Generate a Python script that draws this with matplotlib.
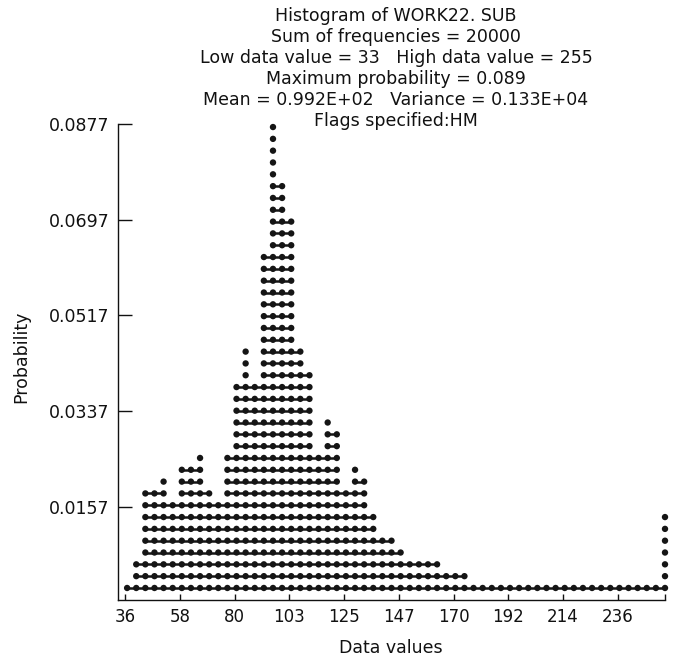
import numpy as np
import matplotlib
matplotlib.use("Agg")
import matplotlib.pyplot as plt

# ---------------- data ----------------
title_lines = [
    "Histogram of WORK22. SUB",
    "Sum of frequencies = 20000",
    "Low data value = 33   High data value = 255",
    "Maximum probability = 0.089",
    "Mean = 0.992E+02   Variance = 0.133E+04",
    "Flags specified:HM",
]
low_value = 33
high_value = 255
n_columns = 60
# number of printed dots in each of the 60 columns (read from the print-out)
dot_counts = [1, 3, 9, 9, 10, 8, 11, 11, 12, 9,
              8, 12, 18, 21, 18, 29, 40, 35, 32, 21,
              19, 12, 15, 14, 9, 11, 10, 7, 5, 5,
              4, 3, 3, 3, 3, 2, 2, 2, 1, 1,
              1, 1, 1, 1, 1, 1, 1, 1, 1, 1,
              1, 1, 1, 1, 1, 1, 1, 1, 1, 7]
dot_base = 0.00047     # probability level of the lowest row of dots
dot_step = 0.002222    # probability per printed row
y_ticks = [0.0157, 0.0337, 0.0517, 0.0697, 0.0877]
y_tick_labels = ["0.0157", "0.0337", "0.0517", "0.0697", "0.0877"]
x_ticks = [36, 58.2, 80.4, 102.6, 124.8, 147, 169.2, 191.4, 213.6, 235.8, 255]
x_tick_labels = ["36", "58", "80", "103", "125", "147", "170", "192", "214", "236", ""]

# ---------------- figure ----------------
W, H = 676, 662
fig = plt.figure(figsize=(W / 100, H / 100), dpi=100)
plt.rcParams['font.family'] = ['DejaVu Sans']

ax_l, ax_r, ax_t, ax_b = 118, 665, 124, 600
ax = fig.add_axes([ax_l / W, 1 - ax_b / H, (ax_r - ax_l) / W, (ax_b - ax_t) / H])

col_width = (high_value - low_value) / n_columns
col_x = low_value + col_width * np.arange(1, n_columns + 1)

ink = "#151515"
xs, ys = [], []
max_rows = max(dot_counts)
for row in range(max_rows):
    level = dot_base + row * dot_step
    present = [i for i, c in enumerate(dot_counts) if c > row]
    # connect runs of neighbouring dots (dot-matrix bleed)
    run = []
    for i in present:
        if run and i != run[-1] + 1:
            if len(run) > 1:
                ax.plot([col_x[run[0]], col_x[run[-1]]], [level, level],
                        color=ink, lw=1.8, solid_capstyle='butt', clip_on=False, zorder=2)
            run = []
        run.append(i)
    if len(run) > 1:
        ax.plot([col_x[run[0]], col_x[run[-1]]], [level, level],
                color=ink, lw=1.8, solid_capstyle='butt', clip_on=False, zorder=2)
    for i in present:
        xs.append(col_x[i])
        ys.append(level)

ax.scatter(xs, ys, s=21, color=ink, edgecolors='none', clip_on=False, zorder=3)

ax.set_xlim(low_value, high_value)
ax.set_ylim(-0.00179, 0.0877)

for s in ("top", "right"):
    ax.spines[s].set_visible(False)
for s in ("left", "bottom"):
    ax.spines[s].set_linewidth(1.0)
    ax.spines[s].set_color("#111111")

ax.set_yticks(y_ticks)
ax.set_yticklabels(y_tick_labels)
ax.set_xticks(x_ticks)
ax.set_xticklabels(x_tick_labels)
ax.tick_params(axis='y', direction='in', length=10, width=1.0, pad=6,
               labelsize=12.5, colors="#111111")
ax.tick_params(axis='x', direction='in', length=4.5, width=1.0, pad=6,
               labelsize=12, colors="#111111")

fig.text(21.5 / W, 1 - 357 / H, "Probability", rotation=90, ha='center', va='center',
         fontsize=12.5, color="#111111")
fig.text(391 / W, 1 - 648 / H, "Data values", ha='center', va='center',
         fontsize=12.5, color="#111111")

baselines = [20.7, 41.8, 62.9, 84.0, 105.1, 126.2]
for line, b in zip(title_lines, baselines):
    fig.text(396 / W, 1 - b / H, line, ha='center', va='baseline',
             fontsize=12.5, color="#111111")

fig.savefig("out.png", dpi=100)
